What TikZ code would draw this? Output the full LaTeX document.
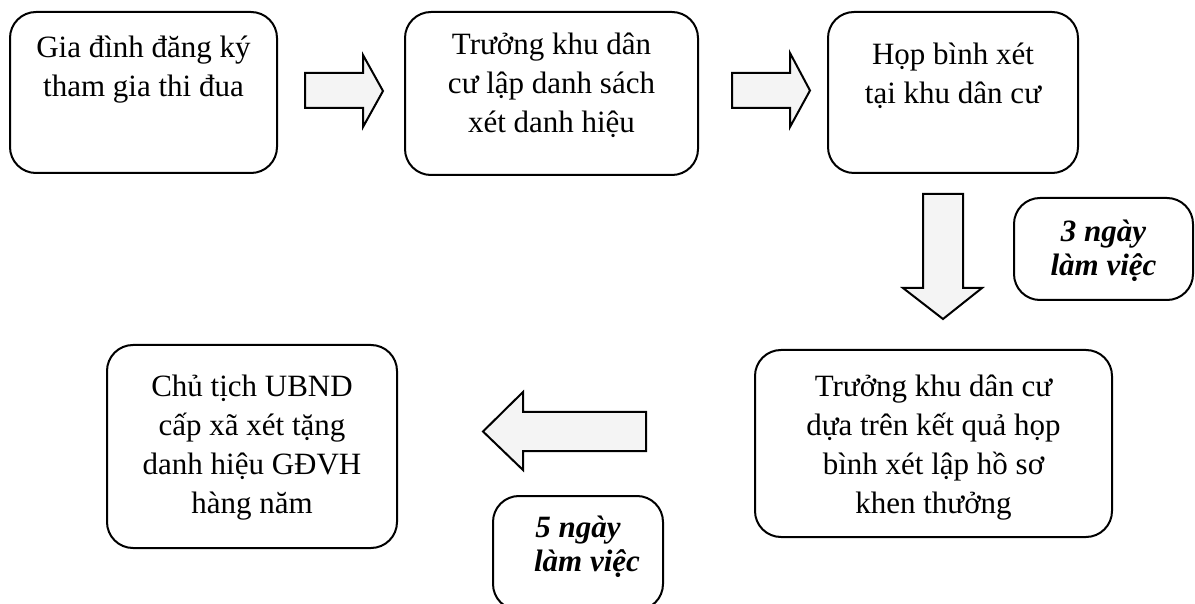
\documentclass[tikz,border=0pt]{standalone}
\usepackage{fontspec}
\setmainfont{Liberation Serif}
\usetikzlibrary{calc}
\newcommand{\tallstrut}{\rule{0pt}{15pt}}

\begin{document}
\begin{tikzpicture}[x=0.5pt,y=-0.5pt,
    stepbox/.style={draw, line width=1pt, rounded corners=13pt, inner sep=0pt},
    steptext/.style={anchor=north, align=center, inner sep=0pt, font=\fontsize{15.5}{19.5}\selectfont},
    daytext/.style={anchor=north, align=center, inner sep=0pt, font=\fontsize{15.5}{17}\selectfont\bfseries\itshape},
    blockarrow/.style={draw, line width=1pt, fill=gray!9, line join=miter}]
  \useasboundingbox (0,0) rectangle (1195,604);

  % boxes of the procedure
  \node[stepbox, minimum width=133.5pt, minimum height=80.5pt] (dangky) at (143.5,92.5) {};
  \node[stepbox, minimum width=146.5pt, minimum height=81.5pt] (danhsach) at (551.5,93.5) {};
  \node[stepbox, minimum width=125pt, minimum height=80.5pt] (hop) at (953,92.5) {};
  \node[stepbox, minimum width=178.5pt, minimum height=93.5pt] (hoso) at (933.5,443.5) {};
  \node[stepbox, minimum width=145pt, minimum height=101.5pt] (tang) at (252,446.5) {};
  \node[stepbox, minimum width=89.5pt, minimum height=51pt] (ba) at (1103.5,249) {};
  \node[stepbox, minimum width=85pt, minimum height=57pt] (nam) at (578,553) {};

  % texts
  \node[steptext] (dangky-t) at ([yshift=-8pt]dangky.north) {\tallstrut Gia đình đăng ký\\tham gia thi đua};
  \node[steptext] (danhsach-t) at ([yshift=-6.5pt]danhsach.north) {\tallstrut Trưởng khu dân\\cư lập danh sách\\xét danh hiệu};
  \node[steptext] (hop-t) at ([yshift=-11.5pt]hop.north) {\tallstrut Họp bình xét\\tại khu dân cư};
  \node[steptext] (hoso-t) at ([yshift=-8.5pt]hoso.north) {\tallstrut Trưởng khu dân cư\\dựa trên kết quả họp\\bình xét lập hồ sơ\\khen thưởng};
  \node[steptext] (tang-t) at ([yshift=-11pt]tang.north) {\tallstrut Chủ tịch UBND\\cấp xã xét tặng\\danh hiệu GĐVH\\hàng năm};
  \node[daytext] (ba-t) at ([yshift=-7pt]ba.north) {\tallstrut 3 ngày\\làm việc};
  \node[daytext] (nam-t) at ([yshift=-6pt]nam.north) {\tallstrut 5 ngày\\\hspace*{9pt}làm việc};

  % block arrows
  \draw[blockarrow] (305,73) -- (363,73) -- (363,55) -- (383,91) -- (363,127) -- (363,108) -- (305,108) -- cycle;
  \draw[blockarrow] (732,73) -- (790,73) -- (790,53) -- (810,90.5) -- (790,127) -- (790,108) -- (732,108) -- cycle;
  \draw[blockarrow] (923,194) -- (963,194) -- (963,288) -- (982,288) -- (943,319) -- (903,288) -- (923,288) -- cycle;
  \draw[blockarrow] (646,412) -- (523,412) -- (523,392) -- (483,431.5) -- (523,470) -- (523,451) -- (646,451) -- cycle;
\end{tikzpicture}
\end{document}
